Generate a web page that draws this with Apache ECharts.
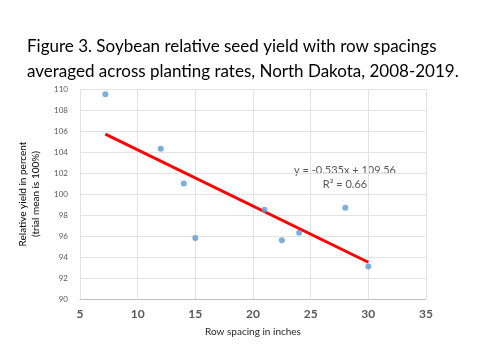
<!DOCTYPE html>
<html><head><meta charset="utf-8">
<script src="https://cdn.jsdelivr.net/npm/echarts@6/dist/echarts.min.js"></script>
<style>html,body{margin:0;padding:0;background:#fff}#c{width:480px;height:360px}</style>
</head><body><div id="c"></div>
<script>
var rowSpacing = [7.2, 12, 14, 15, 21, 22.5, 24, 28, 30];
var relYield = [109.5, 104.3, 101.0, 95.8, 98.5, 95.6, 96.3, 98.7, 93.1];
var trendX = [7.2, 30];
var trendY = [105.7, 93.5];
var titleLines = ['Figure 3. Soybean relative seed yield with row spacings', 'averaged across planting rates, North Dakota, 2008-2019.'];
var chart = echarts.init(document.getElementById('c'));
chart.setOption({
  animation: false,
  title: {
    text: titleLines.join('\n'), left: 22, top: 29,
    textStyle: {fontFamily: 'Lato', fontWeight: 'normal', fontSize: 17, color: '#000', lineHeight: 25}
  },
  grid: {left: 80, right: 54, top: 89, bottom: 61, containLabel: false},
  xAxis: {
    type: 'value', min: 5, max: 35, interval: 5,
    name: 'Row spacing in inches', nameLocation: 'middle', nameGap: 28,
    nameTextStyle: {fontFamily: 'Lato', fontSize: 10, color: '#262626'},
    axisLine: {show: true, lineStyle: {color: '#bfbfbf'}},
    axisTick: {show: false},
    axisLabel: {fontFamily: 'Lato', fontSize: 12, fontWeight: 'bold', color: '#595959', margin: 9},
    splitLine: {show: true, lineStyle: {color: '#e3e3e3'}}
  },
  yAxis: {
    type: 'value', min: 90, max: 110, interval: 2,
    name: 'Relative yield in percent\n(trial mean is 100%)', nameLocation: 'middle', nameGap: 38,
    nameTextStyle: {fontFamily: 'Lato', fontSize: 10, color: '#000', lineHeight: 13},
    axisLine: {show: false}, axisTick: {show: false},
    axisLabel: {fontFamily: 'Lato', fontSize: 8, color: '#595959', margin: 12},
    splitLine: {show: true, lineStyle: {color: '#e3e3e3'}}
  },
  series: [{
    type: 'scatter', symbolSize: 6,
    itemStyle: {color: '#5B9BD5'},
    data: rowSpacing.map(function (x, i) { return [x, relYield[i]]; }),
    z: 3
  }, {
    type: 'line', symbol: 'none',
    lineStyle: {color: '#FF0000', width: 3},
    data: trendX.map(function (x, i) { return [x, trendY[i]]; }),
    z: 2
  }],
  graphic: [{
    type: 'text', x: 345, y: 170,
    style: {text: 'y = -0.535x + 109.56', fontFamily: 'Lato', fontSize: 11, fill: '#595959', align: 'center', verticalAlign: 'middle'}
  }, {
    type: 'text', x: 345, y: 184,
    style: {text: 'R² = 0.66', fontFamily: 'Lato', fontSize: 11, fill: '#595959', align: 'center', verticalAlign: 'middle'}
  }]
});
</script></body></html>
